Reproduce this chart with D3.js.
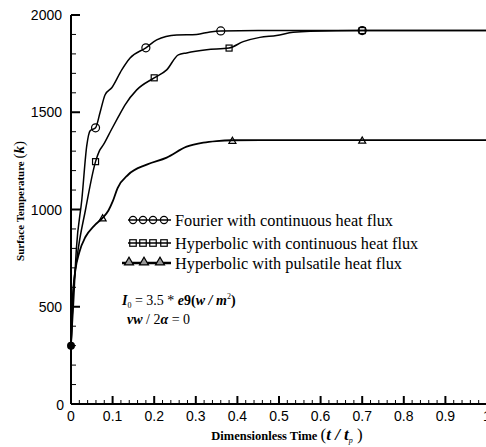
<!DOCTYPE html>
<html>
<head>
<meta charset="utf-8">
<script src="https://cdn.jsdelivr.net/npm/d3@7"></script>
<style>
  html, body { margin: 0; padding: 0; background: #fff; }
  svg { display: block; }
</style>
</head>
<body>
<svg id="chart" width="486" height="447"></svg>
<script>
// Surface temperature histories (t/tp, K)
const fourierT = [0, 0.006, 0.013, 0.026, 0.038, 0.046, 0.059, 0.07, 0.082, 0.098, 0.122, 0.142, 0.18, 0.206, 0.254, 0.302, 0.334, 0.36, 0.45, 0.6, 0.7, 0.85, 1.05];
const fourierV = [300, 520, 800, 1050, 1330, 1405, 1420, 1500, 1590, 1626, 1718, 1779, 1831, 1872, 1897, 1900, 1913, 1918, 1920, 1920, 1920, 1920, 1920];

const hypContT = [0, 0.005, 0.015, 0.035, 0.059, 0.068, 0.078, 0.097, 0.114, 0.13, 0.158, 0.2, 0.23, 0.258, 0.278, 0.326, 0.38, 0.414, 0.454, 0.494, 0.534, 0.575, 0.7, 0.85, 1.05];
const hypContV = [300, 560, 760, 1000, 1246, 1300, 1333, 1410, 1477, 1538, 1615, 1677, 1718, 1795, 1805, 1821, 1830, 1863, 1885, 1895, 1911, 1917, 1920, 1920, 1920];

const hypPulsT = [0, 0.004, 0.01, 0.02, 0.035, 0.055, 0.076, 0.09, 0.1, 0.112, 0.138, 0.182, 0.23, 0.278, 0.318, 0.35, 0.388, 0.5, 0.7, 0.85, 1.05];
const hypPulsV = [300, 540, 680, 780, 860, 915, 957, 995, 1040, 1110, 1180, 1231, 1267, 1323, 1344, 1352, 1356, 1357, 1357, 1357, 1357];

// Marker positions along each curve
const fourierMarkT = [0, 0.059, 0.18, 0.36, 0.70];
const fourierMarkV = [300, 1420, 1831, 1918, 1920];
const hypContMarkT = [0.059, 0.2, 0.38, 0.70];
const hypContMarkV = [1246, 1677, 1830, 1920];
const hypPulsMarkT = [0.076, 0.388, 0.70];
const hypPulsMarkV = [957, 1356, 1357];

const xTicks = [0, 0.1, 0.2, 0.3, 0.4, 0.5, 0.6, 0.7, 0.8, 0.9, 1];
const yTicks = [0, 500, 1000, 1500, 2000];
const legendLabels = [
  "Fourier with continuous heat flux",
  "Hyperbolic with continuous heat flux",
  "Hyperbolic with pulsatile heat flux"
];

const svg = d3.select("#chart");
const x = d3.scaleLinear().domain([0, 1]).range([71, 487]);
const y = d3.scaleLinear().domain([0, 2000]).range([404, 15]);

const plot = svg.append("g");
plot.append("defs").append("clipPath").attr("id", "clip")
  .append("rect").attr("x", 71).attr("y", 0).attr("width", 420).attr("height", 410);

const zip = (a, b) => a.map((v, i) => [v, b[i]]);
const line = d3.line().x(d => x(d[0])).y(d => y(d[1])).curve(d3.curveMonotoneX);

const curves = plot.append("g").attr("clip-path", "url(#clip)");
curves.append("path").datum(zip(fourierT, fourierV)).attr("d", line)
  .attr("fill", "none").attr("stroke", "#000").attr("stroke-width", 1.5);
curves.append("path").datum(zip(hypContT, hypContV)).attr("d", line)
  .attr("fill", "none").attr("stroke", "#000").attr("stroke-width", 1.5);
curves.append("path").datum(zip(hypPulsT, hypPulsV)).attr("d", line)
  .attr("fill", "none").attr("stroke", "#000").attr("stroke-width", 1.8);

// Markers
function circleMark(g, cx, cy, r) {
  g.append("circle").attr("cx", cx).attr("cy", cy).attr("r", r)
    .attr("fill", "none").attr("stroke", "#000").attr("stroke-width", 1.2);
}
function squareMark(g, cx, cy, s) {
  g.append("rect").attr("x", cx - s / 2).attr("y", cy - s / 2).attr("width", s).attr("height", s)
    .attr("fill", "none").attr("stroke", "#000").attr("stroke-width", 1.2);
}
function triMark(g, cx, cy, s, fill) {
  const h = s * 0.87;
  g.append("path")
    .attr("d", `M${cx - s / 2},${cy + h / 2}L${cx + s / 2},${cy + h / 2}L${cx},${cy - h / 2}Z`)
    .attr("fill", fill).attr("stroke", "#000").attr("stroke-width", 1.2);
}

const marks = plot.append("g");
// start point shared by all curves
marks.append("circle").attr("cx", x(0)).attr("cy", y(300)).attr("r", 4).attr("fill", "#000");
fourierMarkT.forEach((t, i) => { if (t > 0) circleMark(marks, x(t), y(fourierMarkV[i]), 4); });
hypContMarkT.forEach((t, i) => squareMark(marks, x(t), y(hypContMarkV[i]), 6));
hypPulsMarkT.forEach((t, i) => triMark(marks, x(t), y(hypPulsMarkV[i]), 7, "none"));

// Axes with inward ticks
const axisG = svg.append("g");
axisG.append("line").attr("x1", x(0)).attr("x2", x(0)).attr("y1", y(2000)).attr("y2", y(0))
  .attr("stroke", "#000").attr("stroke-width", 2);
axisG.append("line").attr("x1", x(0)).attr("x2", 487).attr("y1", y(0)).attr("y2", y(0))
  .attr("stroke", "#000").attr("stroke-width", 2);

d3.range(0, 2001, 100).forEach(v => {
  const major = v % 500 === 0;
  axisG.append("line").attr("x1", x(0)).attr("x2", x(0) + (major ? 9 : 5))
    .attr("y1", y(v)).attr("y2", y(v)).attr("stroke", "#000").attr("stroke-width", major ? 2 : 1);
});
d3.range(0, 51).forEach(i => {
  const major = i % 5 === 0;
  const v = i * 0.02;
  axisG.append("line").attr("x1", x(v)).attr("x2", x(v))
    .attr("y1", y(0)).attr("y2", y(0) - (major ? 8 : 4)).attr("stroke", "#000").attr("stroke-width", major ? 2 : 1);
});

const tickFont = "'Liberation Sans', Arial, sans-serif";
axisG.selectAll(".yl").data(yTicks).enter().append("text")
  .attr("x", d => d === 0 ? 64 : 62).attr("y", d => d === 0 ? y(d) + 6 : y(d) + 5)
  .attr("text-anchor", "end").attr("font-family", tickFont).attr("font-size", 14)
  .text(d => d);
axisG.selectAll(".xl").data(xTicks).enter().append("text")
  .attr("x", d => x(d)).attr("y", 421)
  .attr("text-anchor", "middle").attr("font-family", tickFont).attr("font-size", 14)
  .text(d => d);

// Axis titles
const serif = "'Liberation Serif', 'Times New Roman', serif";
const xt = svg.append("text").attr("x", 287).attr("y", 440).attr("text-anchor", "middle")
  .attr("font-family", serif).attr("font-weight", "bold").attr("font-size", 12.5);
xt.append("tspan").text("Dimensionless Time ");
xt.append("tspan").attr("font-size", 17).attr("font-weight", "normal").text("(");
xt.append("tspan").attr("font-size", 17).attr("font-style", "italic").text("t / t");
xt.append("tspan").attr("font-size", 8).attr("font-style", "italic").attr("font-weight", "normal").attr("dy", 3).text("p");
xt.append("tspan").attr("font-size", 17).attr("font-weight", "normal").attr("dy", -3).text(" )");

const yt = svg.append("text").attr("transform", "translate(24,201) rotate(-90)")
  .attr("text-anchor", "middle").attr("font-family", serif).attr("font-weight", "bold").attr("font-size", 11);
yt.append("tspan").text("Surface Temperature ");
yt.append("tspan").attr("font-size", 15).attr("font-weight", "normal").text("(");
yt.append("tspan").attr("font-size", 15).attr("font-style", "italic").text("k");
yt.append("tspan").attr("font-size", 15).attr("font-weight", "normal").text(")");

// Legend
const leg = svg.append("g");
const legY = [220, 243, 263];
const lx0 = 128, lx1 = 171;
leg.append("line").attr("x1", lx0).attr("x2", lx1).attr("y1", legY[0]).attr("y2", legY[0]).attr("stroke", "#000").attr("stroke-width", 1.3);
[133, 143, 153, 164].forEach(cx => circleMark(leg, cx, legY[0], 3.6));
leg.append("line").attr("x1", lx0).attr("x2", lx1).attr("y1", legY[1]).attr("y2", legY[1]).attr("stroke", "#000").attr("stroke-width", 1.3);
[133, 143, 153, 164].forEach(cx => squareMark(leg, cx, legY[1], 6.5));
leg.append("line").attr("x1", 122).attr("x2", lx1).attr("y1", legY[2]).attr("y2", legY[2]).attr("stroke", "#000").attr("stroke-width", 2.5);
[129, 144, 160].forEach(cx => triMark(leg, cx, legY[2] - 2, 9, "#999"));
legendLabels.forEach((t, i) => {
  leg.append("text").attr("x", 175).attr("y", legY[i] + 6)
    .attr("font-family", serif).attr("font-size", 16.3).text(t);
});

// Parameter annotation
const ann1 = svg.append("text").attr("x", 122).attr("y", 305)
  .attr("font-family", serif).attr("font-size", 14).attr("font-weight", "bold");
ann1.append("tspan").attr("font-style", "italic").text("I");
ann1.append("tspan").attr("font-size", 8).attr("dy", 3).attr("font-weight", "normal").text("0");
ann1.append("tspan").attr("dy", -3).attr("font-weight", "normal").text(" = 3.5 * ");
ann1.append("tspan").attr("font-style", "italic").text("e");
ann1.append("tspan").text("9(");
ann1.append("tspan").attr("font-style", "italic").text("w / m");
ann1.append("tspan").attr("font-size", 8).attr("dy", -6).attr("font-weight", "normal").text("2");
ann1.append("tspan").attr("dy", 6).text(")");

const ann2 = svg.append("text").attr("x", 127).attr("y", 324)
  .attr("font-family", serif).attr("font-size", 14).attr("font-weight", "bold");
ann2.append("tspan").attr("font-style", "italic").text("vw");
ann2.append("tspan").attr("font-weight", "normal").text(" / 2");
ann2.append("tspan").attr("font-style", "italic").text("α");
ann2.append("tspan").attr("font-weight", "normal").text(" = 0");
</script>
</body>
</html>
